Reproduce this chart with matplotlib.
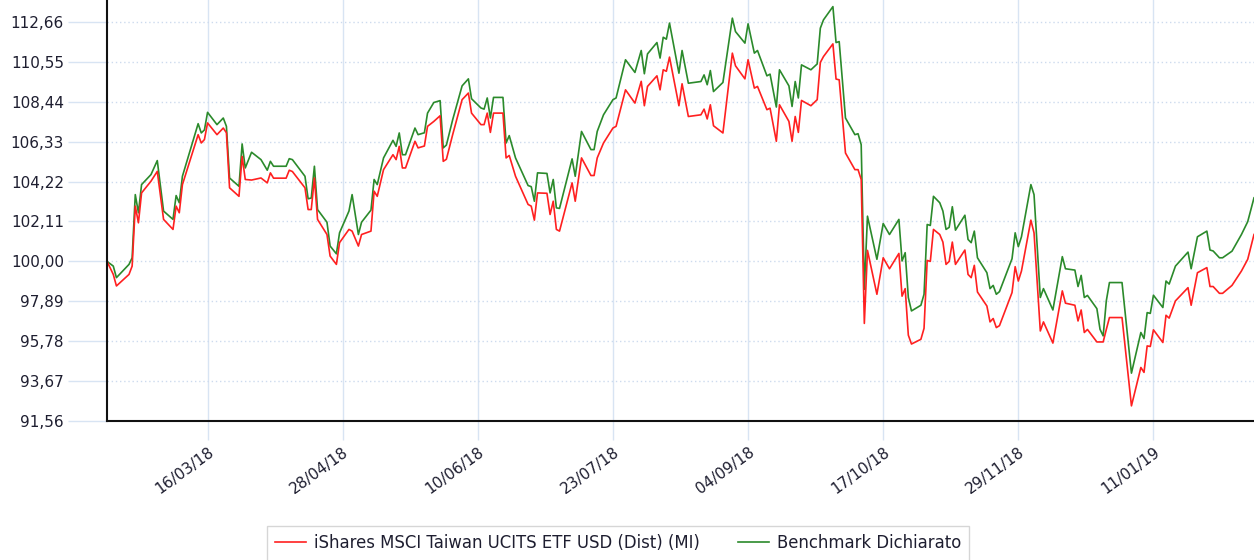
import pandas as pd
import matplotlib
matplotlib.use('Agg')
import matplotlib.pyplot as plt

# Period shown on the chart
start_date = '2018-02-12'
end_date = '2019-02-12'

# Observation dates, as days after start_date
days_from_start = [
    0, 2, 3, 7, 8, 9, 10, 11, 14, 16, 18, 21, 22, 23, 24, 29, 30, 31, 32, 35,
    37, 38, 39, 42, 43, 44, 46, 49, 51, 52, 53, 57, 58, 59, 63, 64, 65, 66, 67, 70,
    71, 73, 74, 77, 78, 80, 81, 84, 85, 86, 88, 91, 92, 93, 94, 95, 98, 99, 101, 102,
    104, 106, 107, 108, 110, 113, 115, 116, 119, 120, 121, 122, 123, 126, 127, 128, 130, 134, 135, 136,
    137, 140, 141, 142, 143, 144, 148, 149, 151, 154, 155, 156, 158, 161, 162, 165, 168, 170, 171, 172,
    175, 176, 177, 178, 179, 182, 183, 185, 189, 190, 191, 192, 193, 196, 199, 200, 203, 204, 206, 207,
    210, 211, 213, 214, 217, 218, 219, 220, 221, 224, 226, 227, 228, 231, 232, 233, 235, 238, 239, 240,
    241, 242, 245, 247, 249, 252, 253, 254, 255, 256, 259, 260, 261, 262, 263, 265, 266, 267, 268, 269,
    270, 273, 274, 275, 276, 277, 280, 281, 282, 283, 284, 288, 289, 290, 291, 294, 295, 297, 298, 301,
    304, 305, 308, 309, 310, 311, 312, 315, 316, 317, 318, 319, 323, 326, 329, 330, 331, 332, 333, 336,
    337, 338, 340, 344, 345, 347, 350, 351, 352, 354, 355, 358, 361, 363, 365,
]

fund = [
    100.00, 99.31, 98.70, 99.31, 99.75, 102.92, 102.04, 103.62, 104.24, 104.76, 102.22, 101.69, 102.92, 102.57, 104.06, 106.70, 106.26, 106.44, 107.32, 106.70,
    107.05, 106.80, 103.89, 103.44, 105.55, 104.33, 104.30, 104.41, 104.15, 104.68, 104.40, 104.40, 104.82, 104.75, 103.89, 102.74, 102.74, 104.41, 102.22, 101.42,
    100.28, 99.84, 100.99, 101.69, 101.60, 100.81, 101.42, 101.60, 103.71, 103.44, 104.85, 105.64, 105.38, 106.08, 104.94, 104.94, 106.35, 106.00, 106.10, 107.14,
    107.40, 107.70, 105.29, 105.40, 106.70, 108.55, 108.90, 107.84, 107.23, 107.23, 107.84, 106.82, 107.84, 107.84, 105.47, 105.60, 104.50, 103.01, 102.92, 102.18,
    103.62, 103.60, 102.48, 103.18, 101.69, 101.60, 104.15, 103.18, 105.47, 104.54, 104.54, 105.47, 106.26, 107.05, 107.14, 109.07, 108.37, 109.52, 108.23, 109.25,
    109.81, 109.07, 110.13, 110.05, 110.80, 108.23, 109.39, 107.66, 107.75, 108.05, 107.53, 108.28, 107.17, 106.79, 111.01, 110.34, 109.65, 110.66, 109.16, 109.25,
    108.02, 108.10, 106.35, 108.28, 107.40, 106.35, 107.66, 106.82, 108.51, 108.23, 108.55, 110.52, 110.83, 111.50, 109.64, 109.60, 105.73, 104.85, 104.85, 104.33,
    96.72, 100.58, 98.26, 100.19, 99.61, 100.42, 98.16, 98.56, 96.10, 95.63, 95.88, 96.46, 100.05, 100.00, 101.69, 101.42, 101.02, 99.84, 100.00, 101.02,
    99.84, 100.60, 99.31, 99.14, 99.79, 98.38, 97.64, 96.80, 96.98, 96.50, 96.60, 98.35, 99.72, 98.96, 99.49, 102.18, 101.51, 96.32, 96.80, 95.68,
    98.44, 97.79, 97.68, 96.85, 97.43, 96.24, 96.40, 95.74, 95.74, 95.74, 96.40, 97.03, 97.03, 92.36, 94.39, 94.13, 95.53, 95.50, 96.38, 95.71,
    97.15, 97.00, 97.91, 98.61, 97.68, 99.40, 99.67, 98.67, 98.67, 98.31, 98.31, 98.73, 99.49, 100.11, 101.42,
]

benchmark = [
    100.00, 99.75, 99.14, 99.84, 100.19, 103.53, 102.57, 104.06, 104.59, 105.33, 102.66, 102.22, 103.48, 103.10, 104.50, 107.28, 106.79, 106.95, 107.88, 107.23,
    107.58, 107.14, 104.41, 103.97, 106.21, 104.94, 105.77, 105.38, 104.82, 105.29, 105.03, 105.03, 105.43, 105.38, 104.50, 103.31, 103.35, 105.03, 102.74, 102.07,
    100.81, 100.40, 101.51, 102.66, 103.53, 101.42, 102.07, 102.71, 104.33, 104.06, 105.47, 106.40, 106.08, 106.79, 105.64, 105.64, 107.05, 106.70, 106.80, 107.84,
    108.40, 108.50, 106.00, 106.15, 107.49, 109.28, 109.65, 108.60, 108.11, 108.05, 108.64, 107.58, 108.67, 108.67, 106.26, 106.65, 105.47, 104.01, 103.95, 103.18,
    104.68, 104.65, 103.62, 104.33, 102.83, 102.80, 105.42, 104.50, 106.87, 105.91, 105.91, 106.87, 107.75, 108.55, 108.64, 110.66, 109.99, 111.15, 109.92, 110.97,
    111.57, 110.75, 111.85, 111.75, 112.60, 109.95, 111.15, 109.42, 109.51, 109.86, 109.34, 110.09, 108.98, 109.46, 112.86, 112.15, 111.54, 112.56, 111.01, 111.15,
    109.81, 109.90, 108.16, 110.13, 109.28, 108.19, 109.51, 108.64, 110.39, 110.13, 110.44, 112.33, 112.77, 113.47, 111.57, 111.62, 107.58, 106.70, 106.75, 106.17,
    98.52, 102.39, 100.11, 102.00, 101.42, 102.22, 100.02, 100.46, 98.09, 97.38, 97.68, 98.26, 101.95, 101.90, 103.44, 103.10, 102.66, 101.69, 101.80, 102.89,
    101.65, 102.44, 101.16, 100.99, 101.60, 100.19, 99.40, 98.56, 98.73, 98.26, 98.40, 100.14, 101.51, 100.78, 101.30, 104.06, 103.53, 98.09, 98.56, 97.43,
    100.25, 99.61, 99.54, 98.67, 99.26, 98.09, 98.20, 97.50, 96.41, 96.06, 97.91, 98.88, 98.88, 94.09, 96.24, 95.92, 97.29, 97.25, 98.21, 97.56,
    98.96, 98.80, 99.75, 100.49, 99.61, 101.30, 101.60, 100.60, 100.55, 100.19, 100.19, 100.54, 101.42, 102.10, 103.36,
]

y_ticks = [91.56, 93.67, 95.78, 97.89, 100.00, 102.11, 104.22, 106.33, 108.44, 110.55, 112.66]
x_tick_dates = ['2018-03-16', '2018-04-28', '2018-06-10', '2018-07-23',
                '2018-09-04', '2018-10-17', '2018-11-29', '2019-01-11']
series_names = ['iShares MSCI Taiwan UCITS ETF USD (Dist) (MI)', 'Benchmark Dichiarato']

TEXT = '#1e1e30'
GRID = '#d8e4f3'


def main():
    dates = pd.Timestamp(start_date) + pd.to_timedelta(days_from_start, unit='D')

    fig = plt.figure(figsize=(12.54, 5.6), dpi=100)
    ax = fig.add_axes([107 / 1254, 1 - 421 / 560, 1 - 107 / 1254, 421 / 560])

    # benchmark first so the fund line sits on top
    l2, = ax.plot(dates, benchmark, color='#2b8a2b', lw=1.2, label=series_names[1])
    l1, = ax.plot(dates, fund, color='#ff2020', lw=1.2, label=series_names[0])

    ax.set_xlim(pd.Timestamp(start_date), pd.Timestamp(end_date))
    ax.set_ylim(91.56, 113.82)

    ax.set_yticks(y_ticks)
    ax.set_yticklabels([f'{v:.2f}'.replace('.', ',') for v in y_ticks])
    xt = pd.to_datetime(x_tick_dates)
    ax.set_xticks(xt)
    ax.set_xticklabels([d.strftime('%d/%m/%y') for d in xt])

    ax.set_axisbelow(True)
    ax.yaxis.grid(True, color='#cddbee', linestyle=(0, (1, 2)), lw=1)
    ax.xaxis.grid(True, color=GRID, lw=1)

    ax.tick_params(axis='y', length=28, width=1, color=GRID, pad=3,
                   labelsize=11, labelcolor=TEXT)
    ax.tick_params(axis='x', length=14, width=1, color=GRID, pad=3,
                   labelsize=11, labelcolor=TEXT)
    for lbl in ax.get_xticklabels():
        lbl.set_rotation(36)
        lbl.set_ha('right')
        lbl.set_va('top')
        lbl.set_rotation_mode('anchor')

    for side in ['top', 'right']:
        ax.spines[side].set_visible(False)
    for side in ['left', 'bottom']:
        ax.spines[side].set_color('#111111')
        ax.spines[side].set_linewidth(1.5)

    leg = fig.legend(handles=[l1, l2], loc='upper center',
                     bbox_to_anchor=(618 / 1254, 1 - 526 / 560), ncol=2,
                     frameon=True, fancybox=False, fontsize=11.9,
                     edgecolor='#cccccc', handlelength=1.9, handletextpad=0.45,
                     columnspacing=2.3, borderpad=0.5, borderaxespad=0)
    leg.get_frame().set_linewidth(1)
    for t in leg.get_texts():
        t.set_color(TEXT)

    fig.savefig('out.png', dpi=100)


if __name__ == '__main__':
    main()
